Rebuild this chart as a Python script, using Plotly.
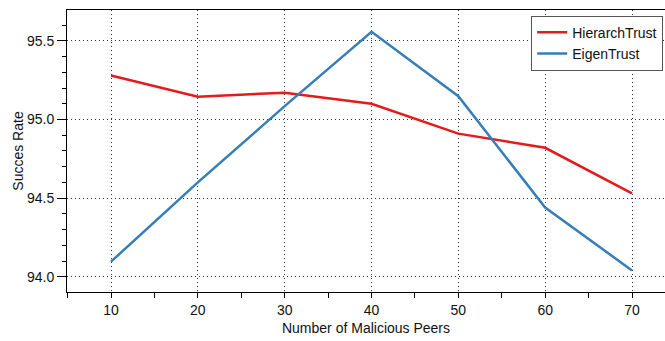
import plotly.graph_objects as go

malicious_peers = [10, 20, 30, 40, 50, 60, 70]
hierarch_trust = [95.28, 95.145, 95.17, 95.10, 94.91, 94.82, 94.53]
eigen_trust = [94.096, 94.60, 95.085, 95.557, 95.148, 94.44, 94.04]
series_names = ["HierarchTrust", "EigenTrust"]
series_colors = ["#e41a1c", "#377eb8"]

FONT = "Liberation Sans, Arial, Helvetica, sans-serif"
GRID = "1px,3px"

fig = go.Figure()
for name, vals, col in zip(series_names, [hierarch_trust, eigen_trust], series_colors):
    fig.add_trace(go.Scatter(x=malicious_peers, y=vals, mode="lines", name=name,
                             line=dict(color=col, width=2.5)))

fig.update_layout(
    width=665, height=341,
    margin=dict(l=67, r=0, t=10, b=49, autoexpand=False),
    paper_bgcolor="white", plot_bgcolor="white",
    font=dict(family=FONT, size=14, color="#111"),
    showlegend=True,
    legend=dict(x=0.997, y=0.98, xanchor="right", yanchor="top",
                bgcolor="white", bordercolor="#555", borderwidth=1,
                font=dict(size=14, family=FONT, color="#111"),
                tracegroupgap=0, itemwidth=30),
)
fig.update_xaxes(
    range=[4.93, 73.8], tickvals=malicious_peers, ticktext=[str(v) for v in malicious_peers],
    showline=True, linecolor="black", linewidth=1, mirror=True,
    ticks="outside", ticklen=5, tickcolor="black",
    minor=dict(dtick=5, tick0=0, ticks="outside", ticklen=5, tickcolor="black", showgrid=False),
    showgrid=True, gridcolor="#333", griddash=GRID, gridwidth=1,
    zeroline=False, automargin=False,
    title=dict(text="Number of Malicious Peers", font=dict(size=14, family=FONT), standoff=6),
    tickfont=dict(size=14, family=FONT),
)
fig.update_yaxes(
    range=[93.903, 95.696], tickvals=[94.0, 94.5, 95.0, 95.5], tickformat=".1f",
    showline=True, linecolor="black", linewidth=1, mirror=False,
    ticks="outside", ticklen=9, tickcolor="black",
    minor=dict(dtick=0.1, tick0=94.0, ticks="outside", ticklen=4, tickcolor="black", showgrid=False),
    showgrid=True, gridcolor="#333", griddash=GRID, gridwidth=1,
    zeroline=False, automargin=False,
    title=dict(text="Succes Rate", font=dict(size=14, family=FONT), standoff=0),
    tickfont=dict(size=14, family=FONT),
)

fig.write_html("out.html", config={"displayModeBar": False},
               post_script="document.body.style.margin='0';document.body.style.overflow='hidden';")
